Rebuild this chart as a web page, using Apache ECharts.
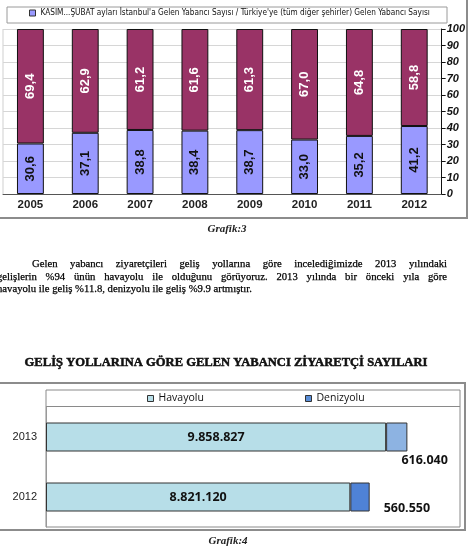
<!DOCTYPE html>
<html>
<head>
<meta charset="utf-8">
<script src="https://cdn.jsdelivr.net/npm/echarts@6/dist/echarts.min.js"></script>
<style>
html, body { margin: 0; padding: 0; background: #fff; }
#main { width: 468px; height: 557px; }
</style>
</head>
<body>
<div id="main"></div>
<script>
// Grafik 3 - share of foreign visitors (Nov-Feb), Istanbul vs other cities
var years = ['2005', '2006', '2007', '2008', '2009', '2010', '2011', '2012'];
var istanbulShare = [30.6, 37.1, 38.8, 38.4, 38.7, 33.0, 35.2, 41.2];
var otherShare = [69.4, 62.9, 61.2, 61.6, 61.3, 67.0, 64.8, 58.8];
var shareLegend = "KASIM...ŞUBAT ayları İstanbul'a Gelen Yabancı Sayısı / Türkiye'ye (tüm diğer şehirler) Gelen Yabancı Sayısı";

// Grafik 4 - arrivals by route
var routeYears = ['2012', '2013'];
var airArrivals = [8821120, 9858827];
var seaArrivals = [560550, 616040];

var paragraphLines = [
    'Gelen yabancı ziyaretçileri geliş yollarına göre incelediğimizde 2013 yılındaki',
    'gelişlerin %94 ünün havayolu ile olduğunu görüyoruz. 2013 yılında bir önceki yıla göre',
    'havayolu ile geliş %11.8, denizyolu ile geliş %9.9 artmıştır.'
];
var heading = 'GELİŞ YOLLARINA GÖRE GELEN YABANCI ZİYARETÇİ SAYILARI';

var seaColors = ['#4f82d6', '#8db3e2'];
var seaLabelOffsets = [[9, 11], [-11, 23]];

var ctx = document.createElement('canvas').getContext('2d');
function measure(str, font) {
    ctx.font = font;
    return ctx.measureText(str).width;
}
// pick a font size so the string spans the given width
function fitSize(str, style, family, width) {
    var w = measure(str, style + ' 20px ' + family);
    return 20 * width / w;
}

var serif = '"Liberation Serif", "DejaVu Serif", serif';
var paraSize = fitSize(paragraphLines[2], '', serif, 255);
var paraFont = paraSize.toFixed(2) + 'px ' + serif;
var headSize = fitSize(heading, 'bold', serif, 403);
var headFont = 'bold ' + headSize.toFixed(2) + 'px ' + serif;
var narrow = '"Liberation Sans Narrow", "DejaVu Sans Condensed", sans-serif';
var legendSize = fitSize(shareLegend, '', narrow, 390);

function paraText(str, x, y) {
    return { type: 'text', x: x, y: y, style: { text: str, font: paraFont, fill: '#000', stroke: '#000', lineWidth: 0.25, verticalAlign: 'middle' } };
}
function lineWords(str, x0, x1, y, justify) {
    if (!justify) return [paraText(str, x0, y)];
    var words = str.split(' ');
    var total = 0;
    words.forEach(function (w) { total += measure(w, paraFont); });
    var gap = (x1 - x0 - total) / (words.length - 1);
    var x = x0, out = [];
    words.forEach(function (w) {
        out.push(paraText(w, x, y));
        x += measure(w, paraFont) + gap;
    });
    return out;
}

function dots(n) {
    return String(n).replace(/\B(?=(\d{3})+(?!\d))/g, '.');
}
function comma(p) {
    return p.value.toFixed(1).replace('.', ',');
}

var graphics = [
    // frame of grafik 3
    { type: 'rect', shape: { x: -3, y: -3, width: 470, height: 221 }, style: { fill: 'none', stroke: '#8c8c8c', lineWidth: 2 } },
    { type: 'rect', shape: { x: 7, y: 7, width: 440, height: 16 }, style: { fill: 'none', stroke: '#9a9a9a', lineWidth: 1 } },
    { type: 'line', shape: { x1: 3, y1: 29, x2: 3, y2: 194 }, style: { stroke: '#cfcfcf', lineWidth: 1 } },
    { type: 'text', x: 227, y: 229, style: { text: 'Grafik:3', font: 'bold italic 11px ' + serif, fill: '#222', align: 'center', verticalAlign: 'middle' } },
    { type: 'text', x: 226, y: 363, style: { text: heading, font: headFont, fill: '#111', stroke: '#111', lineWidth: 0.5, align: 'center', verticalAlign: 'middle' } },
    // frame of grafik 4
    { type: 'rect', shape: { x: -3, y: 383, width: 468, height: 147 }, style: { fill: 'none', stroke: '#8c8c8c', lineWidth: 2 } },
    { type: 'rect', shape: { x: 46, y: 390, width: 414, height: 137 }, style: { fill: 'none', stroke: '#8a8a8a', lineWidth: 1 } },
    { type: 'line', shape: { x1: 46, y1: 406.5, x2: 460, y2: 406.5 }, style: { stroke: '#8a8a8a', lineWidth: 1 } },
    { type: 'text', x: 228, y: 541, style: { text: 'Grafik:4', font: 'bold italic 11px ' + serif, fill: '#222', align: 'center', verticalAlign: 'middle' } }
];
graphics = graphics.concat(lineWords(paragraphLines[0], 32, 447, 264, true));
graphics = graphics.concat(lineWords(paragraphLines[1], -3, 447, 277, true));
graphics = graphics.concat(lineWords(paragraphLines[2], -3, 447, 289, false));

var chart = echarts.init(document.getElementById('main'));
chart.setOption({
    animation: false,
    graphic: { elements: graphics },
    legend: [
        {
            data: [shareLegend],
            left: 29, top: 9, padding: 0,
            itemWidth: 6, itemHeight: 6, itemGap: 4,
            icon: 'rect',
            itemStyle: { borderColor: '#333', borderWidth: 1 },
            textStyle: { fontFamily: narrow, fontSize: legendSize, color: '#111' }
        },
        {
            data: ['Havayolu'],
            left: 147, top: 393, padding: 0,
            itemWidth: 6, itemHeight: 6,
            icon: 'rect',
            itemStyle: { borderColor: '#333', borderWidth: 1 },
            textStyle: { fontFamily: 'Open Sans', fontSize: 10.5, color: '#111' }
        },
        {
            data: ['Denizyolu'],
            left: 305, top: 393, padding: 0,
            itemWidth: 6, itemHeight: 6,
            icon: 'rect',
            itemStyle: { borderColor: '#333', borderWidth: 1 },
            textStyle: { fontFamily: 'Open Sans', fontSize: 10.5, color: '#111' }
        }
    ],
    grid: [
        { left: 3, right: 23, top: 29, bottom: 363 },
        { left: 46, right: 8, top: 407, bottom: 30 }
    ],
    xAxis: [
        {
            gridIndex: 0,
            type: 'category',
            data: years,
            axisLine: { lineStyle: { color: '#555' } },
            axisTick: { length: 4, lineStyle: { color: '#888' } },
            axisLabel: { fontFamily: 'Liberation Sans', fontWeight: 'bold', fontSize: 11.5, color: '#222', margin: 5 }
        },
        {
            gridIndex: 1,
            type: 'value',
            min: 0, max: 12000000,
            show: false
        }
    ],
    yAxis: [
        {
            gridIndex: 0,
            type: 'value',
            position: 'right',
            min: 0, max: 100, interval: 10,
            axisLine: { show: true, lineStyle: { color: '#111' } },
            axisTick: { show: true, length: 4, lineStyle: { color: '#111' } },
            axisLabel: { fontFamily: 'Liberation Sans', fontWeight: 'bold', fontStyle: 'italic', fontSize: 11, color: '#111', margin: 5 },
            splitLine: { lineStyle: { color: '#d6d6d6' } }
        },
        {
            gridIndex: 1,
            type: 'category',
            data: routeYears,
            axisLine: { lineStyle: { color: '#999' } },
            axisTick: { length: 3, lineStyle: { color: '#999' } },
            axisLabel: { fontFamily: 'Liberation Sans', fontSize: 11, color: '#222', margin: 9 }
        }
    ],
    series: [
        {
            name: shareLegend,
            type: 'bar',
            stack: 'share',
            xAxisIndex: 0, yAxisIndex: 0,
            barWidth: '49%',
            data: istanbulShare,
            itemStyle: { color: '#9999ff', borderColor: '#111', borderWidth: 1 },
            label: { show: true, position: 'inside', rotate: 90, formatter: comma,
                fontFamily: 'Liberation Sans', fontWeight: 'bold', fontSize: 13, color: '#111' }
        },
        {
            name: 'other',
            type: 'bar',
            stack: 'share',
            xAxisIndex: 0, yAxisIndex: 0,
            data: otherShare,
            itemStyle: { color: '#993366', borderColor: '#111', borderWidth: 1 },
            label: { show: true, position: 'inside', rotate: 90, formatter: comma,
                fontFamily: 'Liberation Sans', fontWeight: 'bold', fontSize: 13, color: '#fff' }
        },
        {
            name: 'Havayolu',
            type: 'bar',
            stack: 'route',
            xAxisIndex: 1, yAxisIndex: 1,
            barWidth: 29,
            data: airArrivals,
            itemStyle: { color: '#b7dee8', borderColor: '#333', borderWidth: 1 },
            label: { show: true, position: 'inside', formatter: function (p) { return dots(p.value); },
                fontFamily: 'Open Sans', fontWeight: 'bold', fontSize: 12.5, color: '#111' }
        },
        {
            name: 'Denizyolu',
            type: 'bar',
            stack: 'route',
            xAxisIndex: 1, yAxisIndex: 1,
            data: seaArrivals.map(function (v, i) {
                return { value: v, itemStyle: { color: seaColors[i] }, label: { offset: seaLabelOffsets[i] } };
            }),
            itemStyle: { color: '#5b8fd8', borderColor: '#333', borderWidth: 1 },
            label: { show: true, position: 'right', formatter: function (p) { return dots(p.value); },
                fontFamily: 'Open Sans', fontWeight: 'bold', fontSize: 12.5, color: '#111' }
        }
    ]
});
</script>
</body>
</html>
